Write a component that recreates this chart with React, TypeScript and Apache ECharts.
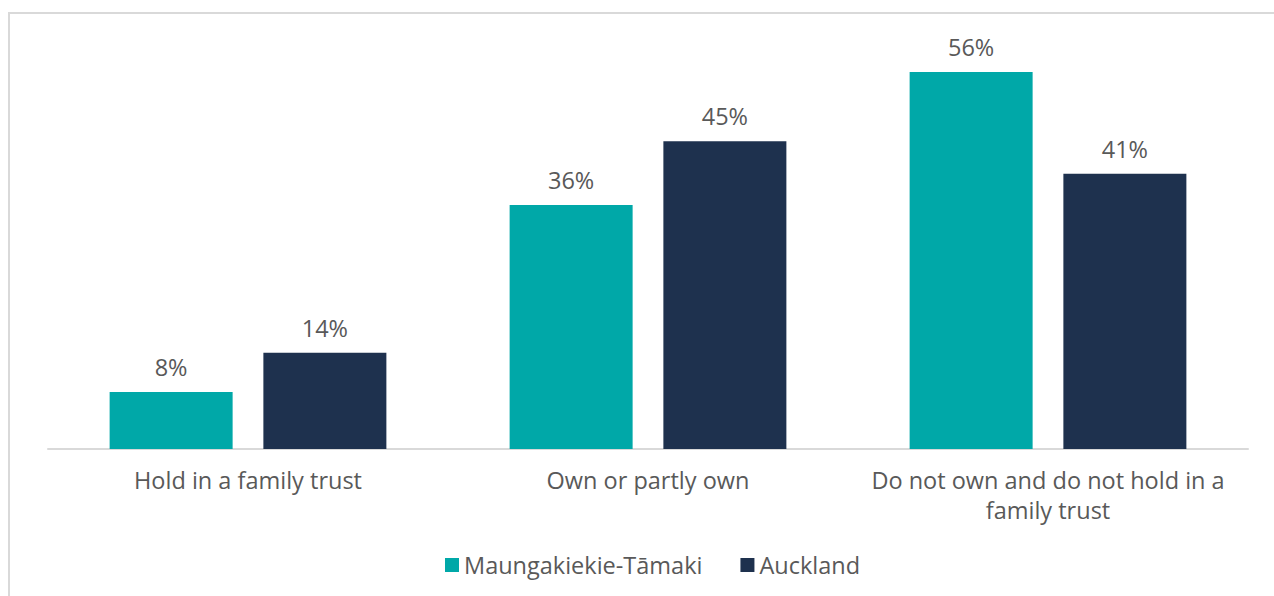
import React, { useEffect, useRef } from "react";
import * as echarts from "echarts";

const categories = [
  "Hold in a family trust",
  "Own or partly own",
  "Do not own and do not hold in a\nfamily trust",
];
const seriesNames = ["Maungakiekie-Tāmaki", "Auckland"];
const maungakiekieValues = [8.4, 36.0, 55.6];
const aucklandValues = [14.2, 45.4, 40.6];
const colors = ["#00A8A8", "#1E314E"];

const FONT = "'Open Sans', sans-serif";
const TEXT = "#595959";
const FS = 23.5;

export default function App() {
  const ref = useRef<HTMLDivElement>(null);
  useEffect(() => {
    if (!ref.current) return;
    const chart = echarts.init(ref.current, null, { renderer: "svg" });
    const label = {
      show: true,
      position: "top",
      distance: 13,
      formatter: (p: any) => Math.round(p.value) + "%",
      color: TEXT,
      fontSize: FS,
      fontFamily: FONT,
    };
    chart.setOption({
      animation: false,
      backgroundColor: "#ffffff",
      graphic: [
        {
          type: "rect",
          shape: { x: 9, y: 13, width: 1400, height: 700 },
          style: { fill: "none", stroke: "#d9d9d9", lineWidth: 2 },
          silent: true,
        },
      ],
      grid: { left: 48, right: 26, top: 42.2, bottom: 147 },
      legend: {
        data: seriesNames,
        top: 548,
        left: 440,
        icon: "rect",
        itemWidth: 14,
        itemHeight: 14,
        itemGap: 38,
        textStyle: { color: TEXT, fontSize: FS, fontFamily: FONT },
      },
      xAxis: {
        type: "category",
        data: categories,
        axisLine: { show: true, lineStyle: { color: "#d9d9d9", width: 2 } },
        axisTick: { show: false },
        axisLabel: {
          color: TEXT,
          fontSize: FS,
          fontFamily: FONT,
          margin: 16,
          lineHeight: 30,
          interval: 0,
        },
      },
      yAxis: {
        type: "value",
        min: 0,
        max: 60,
        show: false,
        splitLine: { show: false },
      },
      series: [
        {
          name: seriesNames[0],
          type: "bar",
          data: maungakiekieValues,
          barWidth: 123,
          barGap: "25%",
          itemStyle: { color: colors[0] },
          label,
        },
        {
          name: seriesNames[1],
          type: "bar",
          data: aucklandValues,
          barWidth: 123,
          barGap: "25%",
          itemStyle: { color: colors[1] },
          label,
        },
      ],
    });
    return () => chart.dispose();
  }, []);
  return (
    <div
      ref={ref}
      style={{ position: "fixed", left: 0, top: 0, width: 1274, height: 596 }}
    />
  );
}
